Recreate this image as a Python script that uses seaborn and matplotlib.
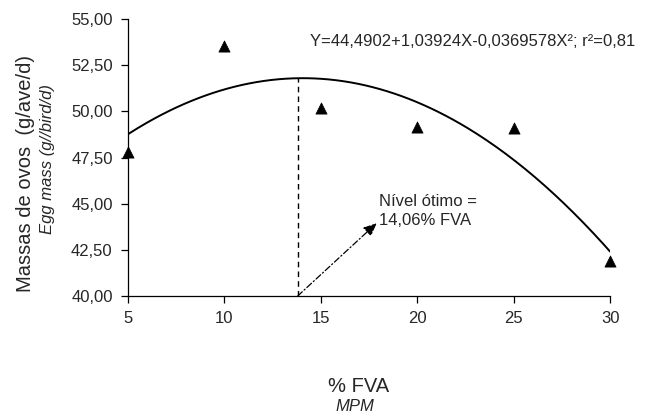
import numpy as np
import pandas as pd
import matplotlib
matplotlib.use("Agg")
import matplotlib.pyplot as plt
import seaborn as sns
from matplotlib.ticker import FuncFormatter

# Data
fva = [5, 10, 15, 20, 25, 30]
egg_mass = [47.8, 53.55, 50.2, 49.15, 49.1, 41.9]
coef = [44.4902, 1.03924, -0.0369578]   # regression coefficients from the equation
optimum_x = 13.8
arrow_tip = (17.9, 43.95)
x_ticks = [5, 10, 15, 20, 25, 30]
y_ticks = [40.0, 42.5, 45.0, 47.5, 50.0, 52.5, 55.0]

sns.set_style("ticks")
plt.rcParams['font.family'] = ['Liberation Sans', 'DejaVu Sans']

fig = plt.figure(figsize=(6.48, 4.19), dpi=100)
ax = fig.add_axes([0.1975, 0.2936, 0.744, 0.661])

df = pd.DataFrame({"x": fva, "y": egg_mass})
xs = np.linspace(5, 30, 200)
fit = pd.DataFrame({"x": xs, "y": coef[0] + coef[1] * xs + coef[2] * xs ** 2})

sns.lineplot(data=fit, x="x", y="y", ax=ax, color="black", linewidth=1.4)
sns.scatterplot(data=df, x="x", y="y", ax=ax, marker="^", s=65, color="black",
                edgecolor="black", linewidth=0.5, zorder=5, clip_on=False)

peak = coef[0] + coef[1] * optimum_x + coef[2] * optimum_x ** 2
ax.plot([optimum_x, optimum_x], [40, peak], color="black", linestyle=(0, (4, 3)), linewidth=1)
ax.annotate("", xy=arrow_tip, xytext=(optimum_x, 40),
            arrowprops=dict(arrowstyle="-|>,head_length=0.8,head_width=0.35", color="black",
                            linestyle=(0, (5, 2, 1, 2)), linewidth=0.9, shrinkA=0, shrinkB=0))
ax.text(18.0, 44.6, "Nível ótimo =\n14,06% FVA", fontsize=12, ha="left", va="center",
        linespacing=1.3)
ax.text(31.3, 53.8, "Y=44,4902+1,03924X-0,0369578X²; r²=0,81", fontsize=12,
        ha="right", va="center")

ax.set_xlim(5, 30)
ax.set_ylim(40, 55)
ax.set_xticks(x_ticks)
ax.set_yticks(y_ticks)
ax.yaxis.set_major_formatter(FuncFormatter(lambda v, p: f"{v:.2f}".replace(".", ",")))
ax.tick_params(axis="both", labelsize=12, length=5, width=0.9, color="black",
               direction="out", pad=6)
for s in ["left", "bottom"]:
    ax.spines[s].set_color("black")
    ax.spines[s].set_linewidth(0.9)
sns.despine(ax=ax)
ax.set_xlabel("")
ax.set_ylabel("")

fig.text(0.040, 0.585, "Massas de ovos  (g/ave/d)", rotation=90, fontsize=14.5,
         ha="center", va="center")
fig.text(0.074, 0.62, "Egg mass (g//bird/d)", rotation=90, fontsize=12,
         style="italic", ha="center", va="center")
fig.text(0.553, 0.078, "% FVA", fontsize=14.5, ha="center", va="center")
fig.text(0.548, 0.030, "MPM", fontsize=12, style="italic", ha="center", va="center")

fig.savefig("out.png", dpi=100, facecolor="white")
